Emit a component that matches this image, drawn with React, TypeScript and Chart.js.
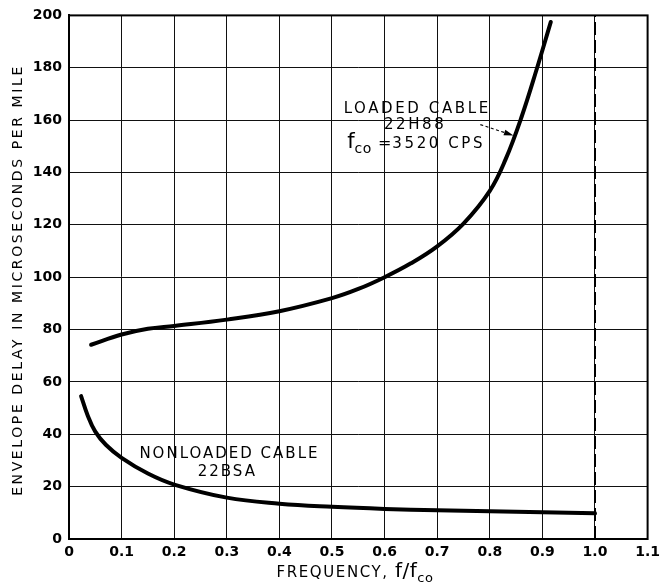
import React, { useEffect, useRef } from "react";
import { Chart, registerables } from "chart.js";

Chart.register(...registerables);

// ---- data ----
const xTickValues = [0, 0.1, 0.2, 0.3, 0.4, 0.5, 0.6, 0.7, 0.8, 0.9, 1.0, 1.1];
const xTickLabels = ["0", "0.1", "0.2", "0.3", "0.4", "0.5", "0.6", "0.7", "0.8", "0.9", "1.0", "1.1"];
const yTickValues = [0, 20, 40, 60, 80, 100, 120, 140, 160, 180, 200];

const loadedX = [0.042, 0.1, 0.15, 0.2, 0.3, 0.4, 0.5, 0.55, 0.6, 0.65, 0.7, 0.75, 0.8, 0.83, 0.86, 0.89, 0.916];
const loadedY = [74.2, 78.1, 80.3, 81.4, 83.8, 87, 92, 95.5, 100, 105.3, 111.8, 120.5, 133, 145, 161, 180, 197.5];

const nonloadedX = [0.023, 0.035, 0.05, 0.07, 0.1, 0.15, 0.2, 0.3, 0.4, 0.5, 0.6, 0.7, 0.8, 0.9, 1.0];
const nonloadedY = [54.6, 47.5, 41, 36, 31, 25.0, 20.8, 15.8, 13.5, 12.3, 11.5, 11, 10.6, 10.2, 9.8];

const cutoffX = [1.0, 1.0];
const cutoffY = [0, 200];

const FONT = "'DejaVu Sans', 'Liberation Sans', sans-serif";

type Part = { t: string; size: number; bold?: boolean; dy?: number; ls?: number };

function partFont(p: Part) {
  return `${p.bold ? "bold " : ""}${p.size}px ${FONT}`;
}

function drawRich(ctx: CanvasRenderingContext2D, parts: Part[], cx: number, baseY: number) {
  const anyCtx = ctx as any;
  let total = 0;
  const widths: number[] = [];
  for (const p of parts) {
    ctx.font = partFont(p);
    anyCtx.letterSpacing = `${p.ls ?? 0}px`;
    const w = ctx.measureText(p.t).width;
    widths.push(w);
    total += w;
  }
  let x = cx - total / 2;
  ctx.textAlign = "left";
  ctx.textBaseline = "alphabetic";
  parts.forEach((p, i) => {
    ctx.font = partFont(p);
    anyCtx.letterSpacing = `${p.ls ?? 0}px`;
    ctx.fillText(p.t, x, baseY + (p.dy ?? 0));
    x += widths[i];
  });
  anyCtx.letterSpacing = "0px";
}

const decorPlugin = {
  id: "decor",
  afterDraw(chart: any) {
    const ctx: CanvasRenderingContext2D = chart.ctx;
    const xs = chart.scales.x;
    const ys = chart.scales.y;
    const area = chart.chartArea;
    ctx.save();
    // frame
    ctx.strokeStyle = "#000";
    ctx.lineWidth = 2;
    ctx.strokeRect(area.left, area.top, area.right - area.left, area.bottom - area.top);

    ctx.fillStyle = "#000";
    const X = (v: number) => xs.getPixelForValue(v);
    const Y = (v: number) => ys.getPixelForValue(v);

    // loaded cable label
    drawRich(ctx, [{ t: "LOADED CABLE", size: 15, ls: 2.6 }], X(0.662), Y(165) + 5.5);
    drawRich(ctx, [{ t: "22H88", size: 15, ls: 2.6 }], X(0.658), Y(158.6) + 5.5);
    drawRich(
      ctx,
      [
        { t: "f", size: 21 },
        { t: "co", size: 14, dy: 5, ls: 0.5 },
        { t: " =", size: 16, ls: 1 },
        { t: "3520 CPS", size: 15, ls: 2.6 },
      ],
      X(0.66),
      Y(149.2)
    );

    // arrow
    const x0 = X(0.782), y0 = Y(158.3), x1 = X(0.845), y1 = Y(154.1);
    ctx.lineWidth = 1.2;
    ctx.setLineDash([3, 2.5]);
    ctx.beginPath();
    ctx.moveTo(x0, y0);
    ctx.lineTo(x1 - 6, y1 - 2);
    ctx.stroke();
    ctx.setLineDash([]);
    const ang = Math.atan2(y1 - y0, x1 - x0);
    ctx.beginPath();
    ctx.moveTo(x1, y1);
    ctx.lineTo(x1 - 10 * Math.cos(ang - 0.3), y1 - 10 * Math.sin(ang - 0.3));
    ctx.lineTo(x1 - 10 * Math.cos(ang + 0.3), y1 - 10 * Math.sin(ang + 0.3));
    ctx.closePath();
    ctx.fill();

    // nonloaded label
    drawRich(ctx, [{ t: "NONLOADED CABLE", size: 15, ls: 2 }], X(0.305), Y(33.2) + 5.5);
    drawRich(ctx, [{ t: "22BSA", size: 15, ls: 2 }], X(0.301), Y(26.3) + 5.5);

    // x title
    drawRich(
      ctx,
      [
        { t: "FREQUENCY, ", size: 15, ls: 1.6 },
        { t: "f/f", size: 20, ls: 0.5 },
        { t: "co", size: 13, dy: 5, ls: 0.5 },
      ],
      355,
      577
    );

    // y title
    ctx.translate(17, 280);
    ctx.rotate(-Math.PI / 2);
    drawRich(ctx, [{ t: "ENVELOPE DELAY IN MICROSECONDS PER MILE", size: 14, ls: 2.6 }], 0, 5);
    ctx.restore();
  },
};

export default function App() {
  const ref = useRef<HTMLCanvasElement | null>(null);

  useEffect(() => {
    if (!ref.current) return;
    const chart = new Chart(ref.current, {
      type: "scatter",
      data: {
        datasets: [
          {
            label: "Loaded cable 22H88",
            data: loadedX.map((x, i) => ({ x, y: loadedY[i] })),
            showLine: true,
            borderColor: "#000",
            borderWidth: 4,
            pointRadius: 0,
            tension: 0.4,
            borderCapStyle: "round",
          },
          {
            label: "Nonloaded cable 22BSA",
            data: nonloadedX.map((x, i) => ({ x, y: nonloadedY[i] })),
            showLine: true,
            borderColor: "#000",
            borderWidth: 4,
            pointRadius: 0,
            tension: 0.4,
            borderCapStyle: "round",
          },
          {
            label: "Cutoff",
            data: cutoffX.map((x, i) => ({ x, y: cutoffY[i] })),
            showLine: true,
            borderColor: "#000",
            borderWidth: 2,
            borderDash: [13, 5],
            pointRadius: 0,
          },
        ],
      },
      options: {
        animation: false,
        responsive: false,
        devicePixelRatio: 1,
        layout: { padding: { top: 9, right: 13, left: 0, bottom: 0 } },
        plugins: { legend: { display: false }, tooltip: { enabled: false } },
        scales: {
          x: {
            type: "linear",
            min: 0,
            max: 1.1,
            afterBuildTicks: (s: any) => {
              s.ticks = xTickValues.map((v) => ({ value: v }));
            },
            afterFit: (s: any) => {
              s.height = 49;
            },
            ticks: {
              callback: (v: any) => {
                const i = xTickValues.findIndex((t) => Math.abs(t - Number(v)) < 1e-6);
                return i >= 0 ? xTickLabels[i] : "";
              },
              color: "#000",
              font: { family: FONT, size: 14, weight: "bold" },
              padding: 5,
              maxRotation: 0,
              autoSkip: false,
            },
            grid: { color: "#111", lineWidth: 1, drawTicks: false },
            border: { display: true, color: "#000", width: 2 },
          },
          y: {
            type: "linear",
            min: 0,
            max: 200,
            afterBuildTicks: (s: any) => {
              s.ticks = yTickValues.map((v) => ({ value: v }));
            },
            afterFit: (s: any) => {
              s.width = 69;
            },
            ticks: {
              color: "#000",
              font: { family: FONT, size: 14, weight: "bold" },
              padding: 7,
              autoSkip: false,
            },
            grid: { color: "#111", lineWidth: 1, drawTicks: false },
            border: { display: true, color: "#000", width: 2 },
          },
        },
      },
      plugins: [decorPlugin],
    });
    return () => chart.destroy();
  }, []);

  return (
    <div style={{ position: "fixed", left: 0, top: 0, width: 665, height: 588, background: "#fff" }}>
      <canvas ref={ref} width={665} height={588} />
    </div>
  );
}
